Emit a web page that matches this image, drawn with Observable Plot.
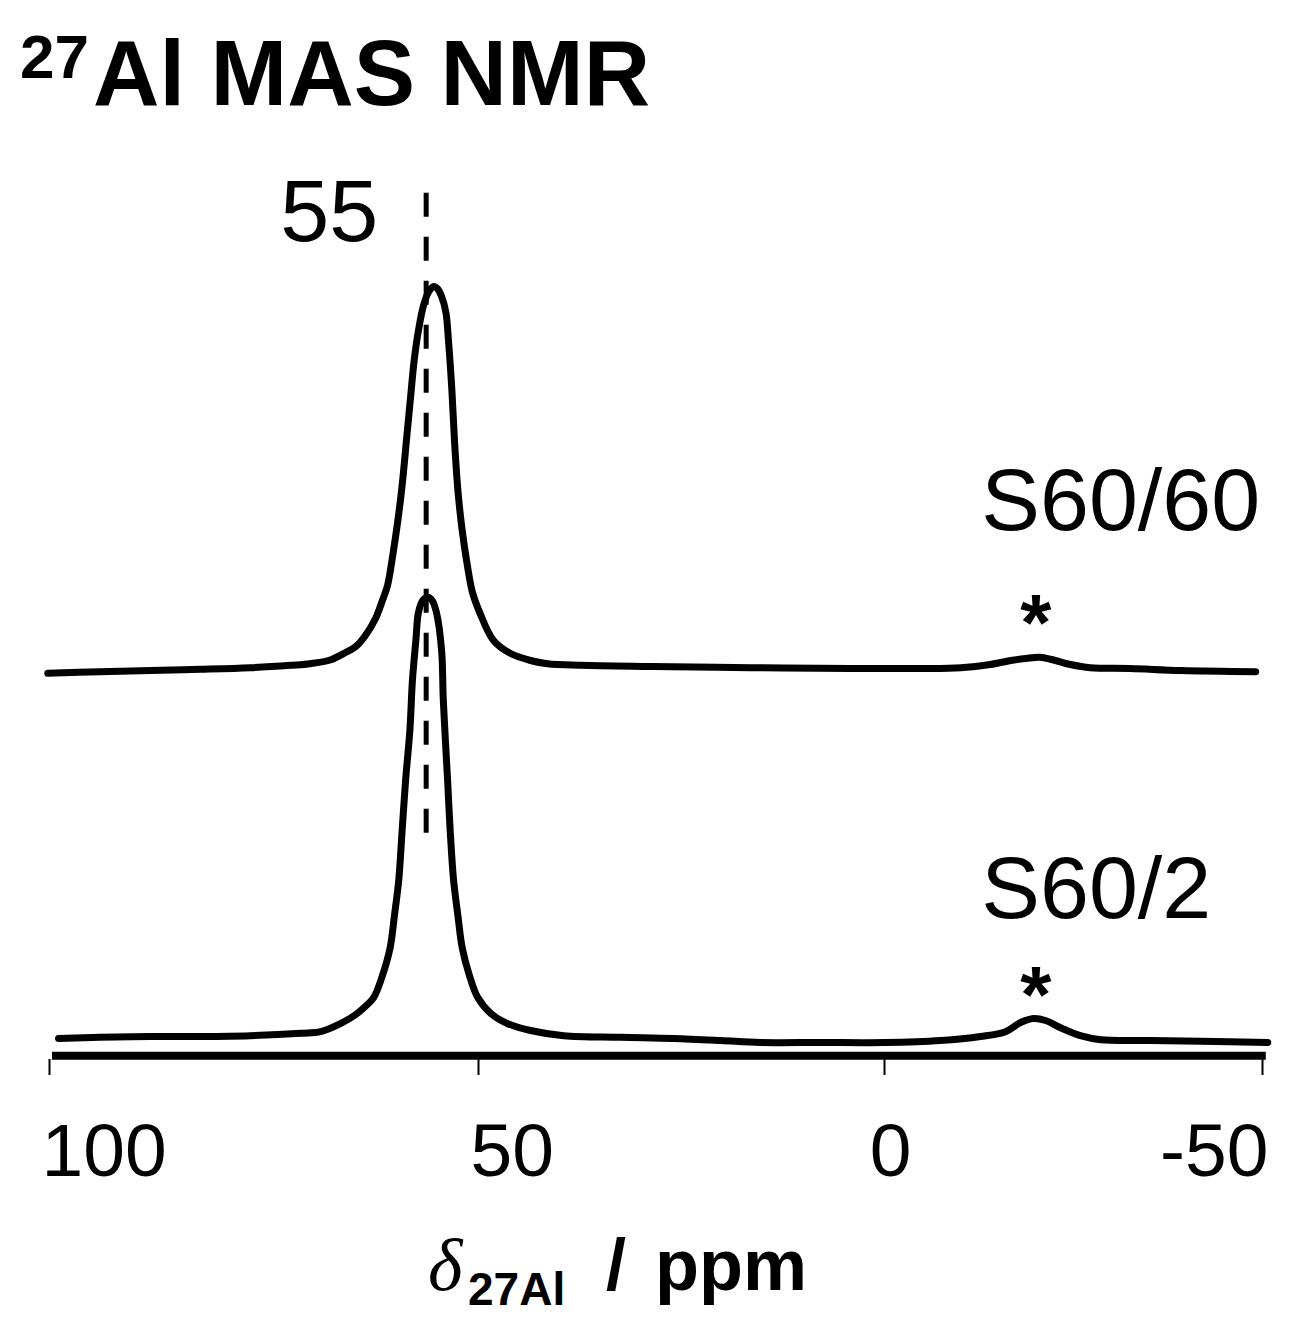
<!DOCTYPE html>
<html><head><meta charset="utf-8">
<script src="https://cdn.jsdelivr.net/npm/d3@7"></script>
<script src="https://cdn.jsdelivr.net/npm/@observablehq/plot@0.6"></script>
<style>
body{margin:0;background:#fff;width:1289px;height:1335px;position:relative;overflow:hidden;font-family:"Liberation Sans",Arial,sans-serif;color:#000}
.t{position:absolute;line-height:1;white-space:nowrap;margin:0}
#chart{position:absolute;left:0;top:130px;width:1289px}
</style></head><body>
<div class="t" style="left:20px;top:26px;font-size:62px;font-weight:bold">27</div>
<div class="t" style="left:93px;top:27px;font-size:92px;font-weight:bold">Al MAS NMR</div>
<div id="chart"></div>
<div class="t" style="left:428px;top:1228px;font-size:74px;font-style:italic;font-family:'Liberation Serif','Times New Roman',serif">δ</div>
<div class="t" style="left:468px;top:1266px;font-size:46px;font-weight:bold">27Al</div>
<div class="t" style="left:606px;top:1229px;font-size:72px;font-weight:bold">/</div>
<div class="t" style="left:655px;top:1229px;font-size:72px;font-weight:bold">ppm</div>
<script>
// chemical shift (ppm) and intensity (a.u.)
const s6060Ppm = [100.2, 94.1, 88.2, 82.4, 76.6, 71.9, 69.6, 67.2, 65.5, 64.3, 63.2, 62.0, 61.2, 60.6, 60.0, 59.4, 58.9, 58.4, 57.9, 57.5, 57.0, 56.4, 55.8, 55.2, 54.8, 54.3, 53.8, 53.5, 53.1, 52.8, 52.4, 51.9, 51.3, 50.7, 49.75, 48.15, 46.1, 43.6, 41.5, 37.4, 28.8, 16.5, 4.2, -4.8, -10.1, -14.0, -16.7, -18.7, -20.6, -22.6, -24.6, -27.2, -32.5, -39.2, -49.1];
const s6060Int = [-0.6, -0.4, -0.25, -0.1, 0.1, 0.4, 0.6, 1.1, 2.0, 2.75, 4.1, 6.25, 8.5, 10.4, 14.1, 18.5, 22.9, 28.5, 34.1, 38.5, 42.25, 45.4, 47.1, 47.75, 47.5, 46.5, 44.5, 41, 34.75, 28.5, 22.25, 17.25, 12.9, 9.5, 6.75, 3.5, 1.9, 1.0, 0.6, 0.4, 0.25, 0.1, 0, 0, 0.1, 0.5, 1.0, 1.25, 1.4, 1.0, 0.5, 0.1, 0, -0.25, -0.4];
const s602Ppm = [98.95, 94.1, 88.2, 82.4, 76.6, 70.7, 68.4, 66.1, 64.3, 63.2, 62.2, 61.2, 60.3, 59.8, 59.3, 58.9, 58.5, 58.0, 57.7, 57.3, 57.0, 56.5, 55.9, 55.4, 54.9, 54.3, 54.1, 53.6, 53.3, 52.9, 52.4, 51.9, 51.05, 50.1, 48.5, 46.4, 43.6, 39.5, 32.5, 26.0, 20.2, 15.3, 7.9, 0, -7.4, -12.7, -16.0, -18.0, -19.7, -21.3, -23.3, -25.9, -28.6, -35.2, -41.8, -50.7];
const s602Int = [0.25, 0.4, 0.5, 0.5, 0.6, 0.9, 1.1, 2.1, 3.25, 4.25, 5.4, 8.1, 11.6, 15.6, 20, 26.25, 32.5, 38.75, 45, 50, 53.5, 55, 55.4, 55, 53.5, 48.75, 42.5, 32.5, 26.25, 20, 15.6, 11.6, 8.1, 5.4, 3.4, 2.1, 1.25, 0.6, 0.4, 0.25, 0, -0.25, -0.25, -0.25, 0, 0.5, 1.1, 2.25, 2.75, 2.5, 1.6, 0.6, 0.1, 0, -0.1, -0.25];
const seriesNames = ["S60/60", "S60/2"];
const seriesOffsets = [46.5, 0];
const seriesLabelPpm = [-12.8, -12.8];
const seriesLabelY = [71.6, 23.1];
const sidebandPpm = [-20.0, -20.0];
const sidebandY = [55.9, 9.4];
const refPpm = [56.1];
const refLabel = ["55"];
const refTop = [107.75];
const refSpan = [105.9, 25.4];
const xTicks = [100, 50, 0, -50];
const axisBase = [-1.9];
const axisExtent = [99.65, -50.5];

const rows = [];
[[s6060Ppm, s6060Int], [s602Ppm, s602Int]].forEach(([P, I], k) => {
  P.forEach((p, i) => rows.push({ppm: p, v: seriesOffsets[k] + I[i], series: seriesNames[k]}));
});
const labels = seriesNames.map((s, k) => ({ppm: seriesLabelPpm[k], y: seriesLabelY[k], text: s}));
const stars = sidebandPpm.map((p, k) => ({ppm: p, y: sidebandY[k], text: "*"}));
const refs = refPpm.map((p, k) => ({ppm: p, y1: refSpan[0], y2: refSpan[1], top: refTop[k], text: refLabel[k]}));
const axisRow = [{y: axisBase[0], x1: axisExtent[0], x2: axisExtent[1]}];

const fmt = d => String(d);
const common = {anchor: "bottom", label: null, fontSize: 75, fill: "#000", stroke: "#000", tickFormat: fmt};
const chart = Plot.plot({
  width: 1289, height: 1090,
  marginTop: 0, marginBottom: 161, marginLeft: 0, marginRight: 0,
  style: {fontFamily: "'Liberation Sans', Arial, sans-serif", color: "#000", background: "#fff", overflow: "visible"},
  x: {type: "linear", domain: xTicks, range: [49, 478, 884, 1262], label: null},
  y: {type: "linear", domain: [0, 100], range: [910, 110], axis: null},
  marks: [
    Plot.ruleY(axisRow, {y: "y", x1: "x1", x2: "x2", stroke: "#000", strokeWidth: 8}),
    Plot.ruleX(refs, {x: "ppm", y1: "y1", y2: "y2", stroke: "#000", strokeWidth: 5, strokeDasharray: "24,20"}),
    Plot.line(rows, {x: "ppm", y: "v", z: "series", stroke: "#000", strokeWidth: 7, curve: "catmull-rom", strokeLinejoin: "round", strokeLinecap: "round"}),
    Plot.text(refs, {x: "ppm", y: "top", text: "text", fontSize: 88, textAnchor: "end", lineAnchor: "top", dx: -48, fill: "#000"}),
    Plot.text(labels, {x: "ppm", y: "y", text: "text", fontSize: 88, textAnchor: "start", lineAnchor: "top", fill: "#000"}),
    Plot.text(stars, {x: "ppm", y: "y", text: "text", fontSize: 80, fontWeight: "bold", textAnchor: "middle", lineAnchor: "top", fill: "#000"}),
    Plot.axisX(xTicks, {...common, tickSize: 16, strokeWidth: 2, tickFormat: () => ""}),
    Plot.axisX([100], {...common, tickSize: 0, tickPadding: 63, textAnchor: "start", dx: -8, stroke: null}),
    Plot.axisX([50], {...common, tickSize: 0, tickPadding: 63, textAnchor: "start", dx: -8, stroke: null}),
    Plot.axisX([0], {...common, tickSize: 0, tickPadding: 63, textAnchor: "middle", dx: 6, stroke: null}),
    Plot.axisX([-50], {...common, tickSize: 0, tickPadding: 63, textAnchor: "end", dx: 6, stroke: null})
  ]
});
document.getElementById("chart").appendChild(chart);
</script>
</body></html>
